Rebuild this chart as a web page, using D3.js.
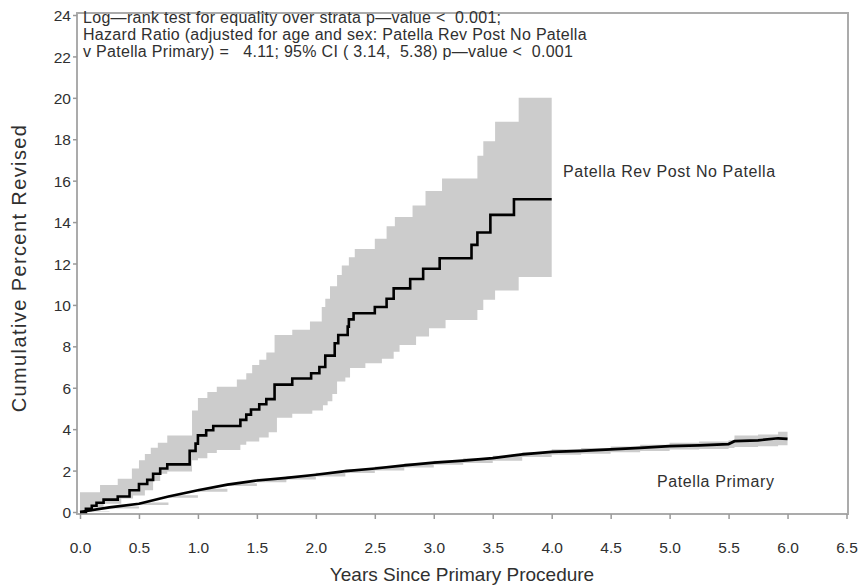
<!DOCTYPE html>
<html>
<head>
<meta charset="utf-8">
<script src="https://cdn.jsdelivr.net/npm/d3@7"></script>
<style>
  body { margin: 0; background: #fff; }
  svg text { font-family: "Liberation Sans", Arial, sans-serif; fill: #303030; white-space: pre; }
</style>
</head>
<body>
<svg id="chart" width="861" height="587"></svg>
<script>
// Patella Rev Post No Patella: KM estimate (step after)
const revTimes = [0, 0.05, 0.1, 0.14, 0.2, 0.32, 0.42, 0.5, 0.57, 0.62, 0.68, 0.74, 0.93, 0.98, 1.0, 1.07, 1.13,
  1.36, 1.41, 1.45, 1.52, 1.58, 1.65, 1.8, 1.96, 2.03, 2.08, 2.16, 2.19, 2.27, 2.28, 2.32, 2.5, 2.6, 2.66,
  2.8, 2.91, 3.05, 3.32, 3.37, 3.48, 3.68, 4.0];
const revValues = [0, 0.15, 0.3, 0.45, 0.6, 0.75, 1.05, 1.35, 1.55, 1.85, 2.1, 2.3, 2.95, 3.3, 3.7, 3.95, 4.15,
  4.45, 4.7, 4.95, 5.2, 5.45, 6.15, 6.45, 6.7, 7.0, 7.55, 8.15, 8.55, 8.95, 9.3, 9.6, 9.9, 10.3, 10.8,
  11.25, 11.75, 12.25, 12.9, 13.5, 14.35, 15.1, 15.1];

const revUpperTimes = [0, 0.17, 0.32, 0.44, 0.5, 0.55, 0.6, 0.66, 0.74, 0.95, 1.0, 1.08, 1.16, 1.33, 1.41, 1.46,
  1.52, 1.58, 1.65, 1.8, 1.95, 2.05, 2.08, 2.12, 2.18, 2.22, 2.28, 2.33, 2.5, 2.6, 2.67, 2.82, 2.93, 3.07,
  3.37, 3.42, 3.52, 3.72, 4.0];
const revUpper = [0.95, 1.3, 1.6, 2.1, 2.5, 2.8, 3.1, 3.35, 3.7, 4.9, 5.5, 5.8, 6.05, 6.4, 6.7, 7.1,
  7.35, 7.7, 8.55, 8.8, 9.2, 9.9, 10.3, 10.9, 11.45, 11.9, 12.3, 12.7, 13.2, 13.8, 14.25, 14.8, 15.5, 16.1,
  17.2, 17.9, 18.85, 20.0, 20.0];

const revLowerTimes = [0, 0.1, 0.2, 0.35, 0.45, 0.55, 0.62, 0.68, 0.74, 0.95, 1.0, 1.08, 1.16, 1.36, 1.41, 1.52,
  1.6, 1.67, 1.8, 1.97, 2.06, 2.1, 2.14, 2.18, 2.25, 2.29, 2.42, 2.56, 2.66, 2.71, 2.85, 2.96, 3.1, 3.37,
  3.42, 3.52, 3.72, 4.0];
const revLower = [0, 0.2, 0.4, 0.65, 0.8, 1.05, 1.5, 1.85, 1.95, 2.5, 2.6, 2.85, 3.0, 3.25, 3.4, 3.6,
  3.85, 4.55, 4.75, 4.9, 5.15, 5.35, 5.7, 6.3, 6.5, 6.95, 7.18, 7.4, 7.74, 8.07, 8.47, 8.87, 9.27, 9.75,
  10.25, 10.7, 11.35, 11.35];

// Patella Primary: estimate and CI
const primTimes = [0, 0.25, 0.5, 0.75, 1.0, 1.25, 1.5, 1.75, 2.0, 2.25, 2.5, 2.75, 3.0, 3.25, 3.5, 3.75,
  4.0, 4.25, 4.5, 4.75, 5.0, 5.25, 5.5, 5.55, 5.75, 5.92, 6.0];
const primValues = [0, 0.22, 0.4, 0.75, 1.05, 1.32, 1.52, 1.65, 1.8, 1.97, 2.1, 2.25, 2.38, 2.48, 2.6, 2.78,
  2.9, 2.95, 3.02, 3.1, 3.18, 3.22, 3.28, 3.42, 3.46, 3.56, 3.53];
const primUpper = [0.03, 0.27, 0.46, 0.81, 1.12, 1.39, 1.6, 1.73, 1.89, 2.06, 2.2, 2.35, 2.48, 2.59, 2.72, 2.9,
  3.03, 3.09, 3.16, 3.25, 3.34, 3.4, 3.47, 3.7, 3.74, 3.88, 3.88];
const primLower = [0, 0.17, 0.34, 0.69, 0.98, 1.25, 1.44, 1.57, 1.71, 1.88, 2.0, 2.15, 2.28, 2.37, 2.48, 2.66,
  2.77, 2.81, 2.88, 2.95, 3.02, 3.04, 3.09, 3.14, 3.18, 3.22, 3.18];

const xTicks = [0, 0.5, 1, 1.5, 2, 2.5, 3, 3.5, 4, 4.5, 5, 5.5, 6, 6.5];
const yTicks = [0, 2, 4, 6, 8, 10, 12, 14, 16, 18, 20, 22, 24];

const annotation = [
  'Log\u2014rank test for equality over strata p\u2014value <  0.001;',
  'Hazard Ratio (adjusted for age and sex: Patella Rev Post No Patella',
  'v Patella Primary) =   4.11; 95% CI ( 3.14,  5.38) p\u2014value <  0.001'
];

const svg = d3.select('#chart');
const x = d3.scaleLinear().domain([0, 6.5]).range([80, 846.5]);
const y = d3.scaleLinear().domain([0, 24]).range([512, 15]);

const zip = (ts, vs) => ts.map((t, i) => [t, vs[i]]);

// turn [t, v] pairs into the corner points of a step-after path
function stepPoints(pts) {
  const out = [];
  pts.forEach((p, i) => {
    if (i > 0) out.push([p[0], pts[i - 1][1]]);
    out.push(p);
  });
  return out;
}
const area = d3.line().x(d => x(d[0])).y(d => y(d[1]));

// confidence bands
const revBand = stepPoints(zip(revUpperTimes, revUpper)).concat(stepPoints(zip(revLowerTimes, revLower)).reverse());
svg.append('path').attr('d', area(revBand) + 'Z').attr('fill', '#cccccc');

const primBand = stepPoints(zip(primTimes, primUpper)).concat(stepPoints(zip(primTimes, primLower)).reverse());
svg.append('path').attr('d', area(primBand) + 'Z').attr('fill', '#cccccc');

// frame
svg.append('rect')
  .attr('x', 77).attr('y', 13).attr('width', 771).attr('height', 501)
  .attr('fill', 'none').attr('stroke', '#ababab').attr('stroke-width', 2);

// estimates
svg.append('path')
  .datum(zip(primTimes, primValues))
  .attr('d', d3.line().x(d => x(d[0])).y(d => y(d[1])))
  .attr('fill', 'none').attr('stroke', '#000').attr('stroke-width', 2.7);

svg.append('path')
  .datum(zip(revTimes, revValues))
  .attr('d', d3.line().x(d => x(d[0])).y(d => y(d[1])).curve(d3.curveStepAfter))
  .attr('fill', 'none').attr('stroke', '#000').attr('stroke-width', 2.6);

// axes
const xAxis = svg.append('g').attr('transform', 'translate(0,514)')
  .call(d3.axisBottom(x).tickValues(xTicks).tickFormat(d3.format('.1f')).tickSize(5).tickSizeOuter(0));
const yAxis = svg.append('g').attr('transform', 'translate(77,0)')
  .call(d3.axisLeft(y).tickValues(yTicks).tickSize(4).tickSizeOuter(0));
[xAxis, yAxis].forEach(a => {
  a.select('.domain').remove();
  a.selectAll('.tick line').attr('stroke', '#9a9a9a').attr('stroke-width', 1.5);
  a.selectAll('.tick text').attr('font-size', 15.5)
    .style('font-family', '"Liberation Sans", Arial, sans-serif').attr('fill', '#303030');
});
xAxis.selectAll('.tick text').attr('y', 28).attr('dy', '0.71em');
yAxis.selectAll('.tick text').attr('x', -6).attr('dy', '0.36em');

// axis titles
svg.append('text')
  .attr('x', 462).attr('y', 581).attr('text-anchor', 'middle')
  .attr('font-size', 19).text('Years Since Primary Procedure');
svg.append('text')
  .attr('transform', 'translate(26,268) rotate(-90)').attr('text-anchor', 'middle')
  .attr('font-size', 20).attr('letter-spacing', 1.4).text('Cumulative Percent Revised');

// annotation
svg.append('g').selectAll('text').data(annotation).join('text')
  .attr('x', 83).attr('y', (d, i) => 23 + i * 17)
  .attr('font-size', 16).attr('letter-spacing', 0.3).text(d => d);

// series labels
svg.append('text').attr('x', 563).attr('y', 177).attr('font-size', 16)
  .attr('letter-spacing', 0.6).text('Patella Rev Post No Patella');
svg.append('text').attr('x', 657).attr('y', 487).attr('font-size', 16)
  .attr('letter-spacing', 0.6).text('Patella Primary');
</script>
</body>
</html>
